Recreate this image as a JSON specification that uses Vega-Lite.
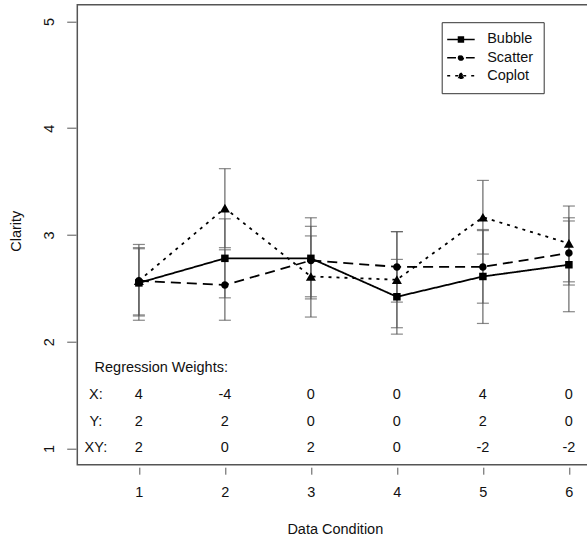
{
  "$schema": "https://vega.github.io/schema/vega-lite/v6.json",
  "width": 515,
  "height": 460,
  "autosize": {"type": "none"},
  "padding": {"left": 77.3, "top": 4.7, "right": 0, "bottom": 80},
  "config": {
    "view": {"stroke": "#555", "strokeWidth": 1.5},
    "font": "Liberation Sans",
    "axis": {
      "grid": false, "domain": false, "tickColor": "#555", "tickWidth": 1,
      "labelFont": "Liberation Sans", "labelFontSize": 14.5, "labelColor": "#111",
      "titleFont": "Liberation Sans", "titleFontSize": 14.5, "titleFontWeight": "normal", "titleColor": "#111"
    },
    "text": {"font": "Liberation Sans", "fontSize": 14.5, "color": "#111"}
  },
  "datasets": {
    "summary": [
      {"series": "Bubble", "cond": 1, "clarity": 2.55, "lo": 2.25, "hi": 2.87},
      {"series": "Bubble", "cond": 2, "clarity": 2.78, "lo": 2.41, "hi": 3.15},
      {"series": "Bubble", "cond": 3, "clarity": 2.78, "lo": 2.40, "hi": 3.16},
      {"series": "Bubble", "cond": 4, "clarity": 2.42, "lo": 2.07, "hi": 2.77},
      {"series": "Bubble", "cond": 5, "clarity": 2.61, "lo": 2.17, "hi": 3.05},
      {"series": "Bubble", "cond": 6, "clarity": 2.72, "lo": 2.28, "hi": 3.16},
      {"series": "Scatter", "cond": 1, "clarity": 2.57, "lo": 2.20, "hi": 2.91},
      {"series": "Scatter", "cond": 2, "clarity": 2.53, "lo": 2.20, "hi": 2.86},
      {"series": "Scatter", "cond": 3, "clarity": 2.76, "lo": 2.42, "hi": 3.08},
      {"series": "Scatter", "cond": 4, "clarity": 2.70, "lo": 2.37, "hi": 3.03},
      {"series": "Scatter", "cond": 5, "clarity": 2.70, "lo": 2.36, "hi": 3.04},
      {"series": "Scatter", "cond": 6, "clarity": 2.83, "lo": 2.53, "hi": 3.13},
      {"series": "Coplot", "cond": 1, "clarity": 2.57, "lo": 2.24, "hi": 2.88},
      {"series": "Coplot", "cond": 2, "clarity": 3.25, "lo": 2.88, "hi": 3.62},
      {"series": "Coplot", "cond": 3, "clarity": 2.61, "lo": 2.23, "hi": 2.99},
      {"series": "Coplot", "cond": 4, "clarity": 2.58, "lo": 2.13, "hi": 3.03},
      {"series": "Coplot", "cond": 5, "clarity": 3.165, "lo": 2.82, "hi": 3.51},
      {"series": "Coplot", "cond": 6, "clarity": 2.92, "lo": 2.56, "hi": 3.27}
    ],
    "weights": [
      {"cond": 1, "level": 1.5, "weight": "4"},
      {"cond": 2, "level": 1.5, "weight": "-4"},
      {"cond": 3, "level": 1.5, "weight": "0"},
      {"cond": 4, "level": 1.5, "weight": "0"},
      {"cond": 5, "level": 1.5, "weight": "4"},
      {"cond": 6, "level": 1.5, "weight": "0"},
      {"cond": 1, "level": 1.25, "weight": "2"},
      {"cond": 2, "level": 1.25, "weight": "2"},
      {"cond": 3, "level": 1.25, "weight": "0"},
      {"cond": 4, "level": 1.25, "weight": "0"},
      {"cond": 5, "level": 1.25, "weight": "2"},
      {"cond": 6, "level": 1.25, "weight": "0"},
      {"cond": 1, "level": 1.0, "weight": "2"},
      {"cond": 2, "level": 1.0, "weight": "0"},
      {"cond": 3, "level": 1.0, "weight": "2"},
      {"cond": 4, "level": 1.0, "weight": "0"},
      {"cond": 5, "level": 1.0, "weight": "-2"},
      {"cond": 6, "level": 1.0, "weight": "-2"},
      {"cond": 0.5, "level": 1.5, "weight": "X:"},
      {"cond": 0.5, "level": 1.25, "weight": "Y:"},
      {"cond": 0.5, "level": 1.0, "weight": "XY:"},
      {"cond": 1.26, "level": 1.75, "weight": "Regression Weights:"}
    ]
  },
  "encoding": {
    "x": {
      "field": "cond", "type": "quantitative",
      "scale": {"domain": [0.284, 6.272], "nice": false, "zero": false},
      "axis": {
        "values": [1, 2, 3, 4, 5, 6], "format": "d", "tickSize": 7, "offset": 2.5,
        "labelPadding": 11, "title": "Data Condition", "titleX": 257.5, "titleY": 55,
        "titleBaseline": "top", "titleAlign": "center"
      }
    }
  },
  "layer": [
    {
      "data": {"name": "summary"},
      "mark": {"type": "rule", "color": "#666", "strokeWidth": 1.2},
      "encoding": {
        "y": {
          "field": "lo", "type": "quantitative",
          "scale": {"domain": [0.847, 5.156], "nice": false, "zero": false},
          "axis": {
            "values": [1, 2, 3, 4, 5], "format": "d", "tickSize": 9.3, "offset": 1.3,
            "labelAngle": -90, "labelAlign": "center", "labelBaseline": "alphabetic", "labelPadding": 13.4,
            "title": "Clarity", "titleAngle": -90, "titleX": -55.5, "titleY": 226,
            "titleAlign": "center", "titleBaseline": "alphabetic"
          }
        },
        "y2": {"field": "hi"}
      }
    },
    {
      "data": {"name": "summary"},
      "mark": {"type": "tick", "orient": "horizontal", "color": "#555", "size": 12, "thickness": 1.2},
      "encoding": {"y": {"field": "lo", "type": "quantitative"}}
    },
    {
      "data": {"name": "summary"},
      "mark": {"type": "tick", "orient": "horizontal", "color": "#555", "size": 12, "thickness": 1.2},
      "encoding": {"y": {"field": "hi", "type": "quantitative"}}
    },
    {
      "data": {"name": "summary"},
      "mark": {"type": "line", "color": "black", "strokeWidth": 1.8},
      "encoding": {
        "y": {"field": "clarity", "type": "quantitative"},
        "strokeDash": {
          "field": "series", "type": "nominal",
          "scale": {"domain": ["Bubble", "Scatter", "Coplot"], "range": [[1, 0], [10, 6], [3, 5]]},
          "legend": {
            "title": null, "orient": "none", "legendX": 364.4, "legendY": 17.5,
            "strokeColor": "#333", "fillColor": "white", "padding": 10,
            "labelFont": "Liberation Sans", "labelFontSize": 14.5, "labelColor": "#111",
            "rowPadding": 3.2, "symbolOffset": 2, "labelOffset": 19,
            "symbolSize": 121, "symbolStrokeWidth": 1.5,
            "symbolFillColor": "black", "symbolStrokeColor": "black",
            "symbolType": {"expr": "datum.value === 'Bubble' ? 'M-2.5,0H2.5M-0.45,-0.45H0.45V0.45H-0.45Z' : datum.value === 'Scatter' ? 'M-2.5,0H-0.9M0.9,0H2.5M0.45,0A0.45,0.45 0 1 1 -0.45,0A0.45,0.45 0 1 1 0.45,0Z' : 'M-2.5,0H2.5M0,-0.55L0.6,0.45H-0.6Z'"}
          }
        }
      }
    },
    {
      "data": {"name": "summary"},
      "mark": {"type": "point", "filled": true, "color": "black", "opacity": 1, "size": 100},
      "encoding": {
        "y": {"field": "clarity", "type": "quantitative"},
        "shape": {
          "field": "series", "type": "nominal",
          "scale": {
            "domain": ["Coplot", "Bubble", "Scatter"],
            "range": [
              "M0,-0.866L1,0.866H-1Z",
              "M-0.75,-0.75H0.75V0.75H-0.75Z",
              "M0.75,0A0.75,0.75 0 1 1 -0.75,0A0.75,0.75 0 1 1 0.75,0Z"
            ]
          },
          "legend": null
        }
      }
    },
    {
      "data": {"name": "weights"},
      "mark": {"type": "text", "align": "center", "baseline": "middle"},
      "encoding": {
        "y": {"field": "level", "type": "quantitative"},
        "text": {"field": "weight"}
      }
    }
  ]
}
